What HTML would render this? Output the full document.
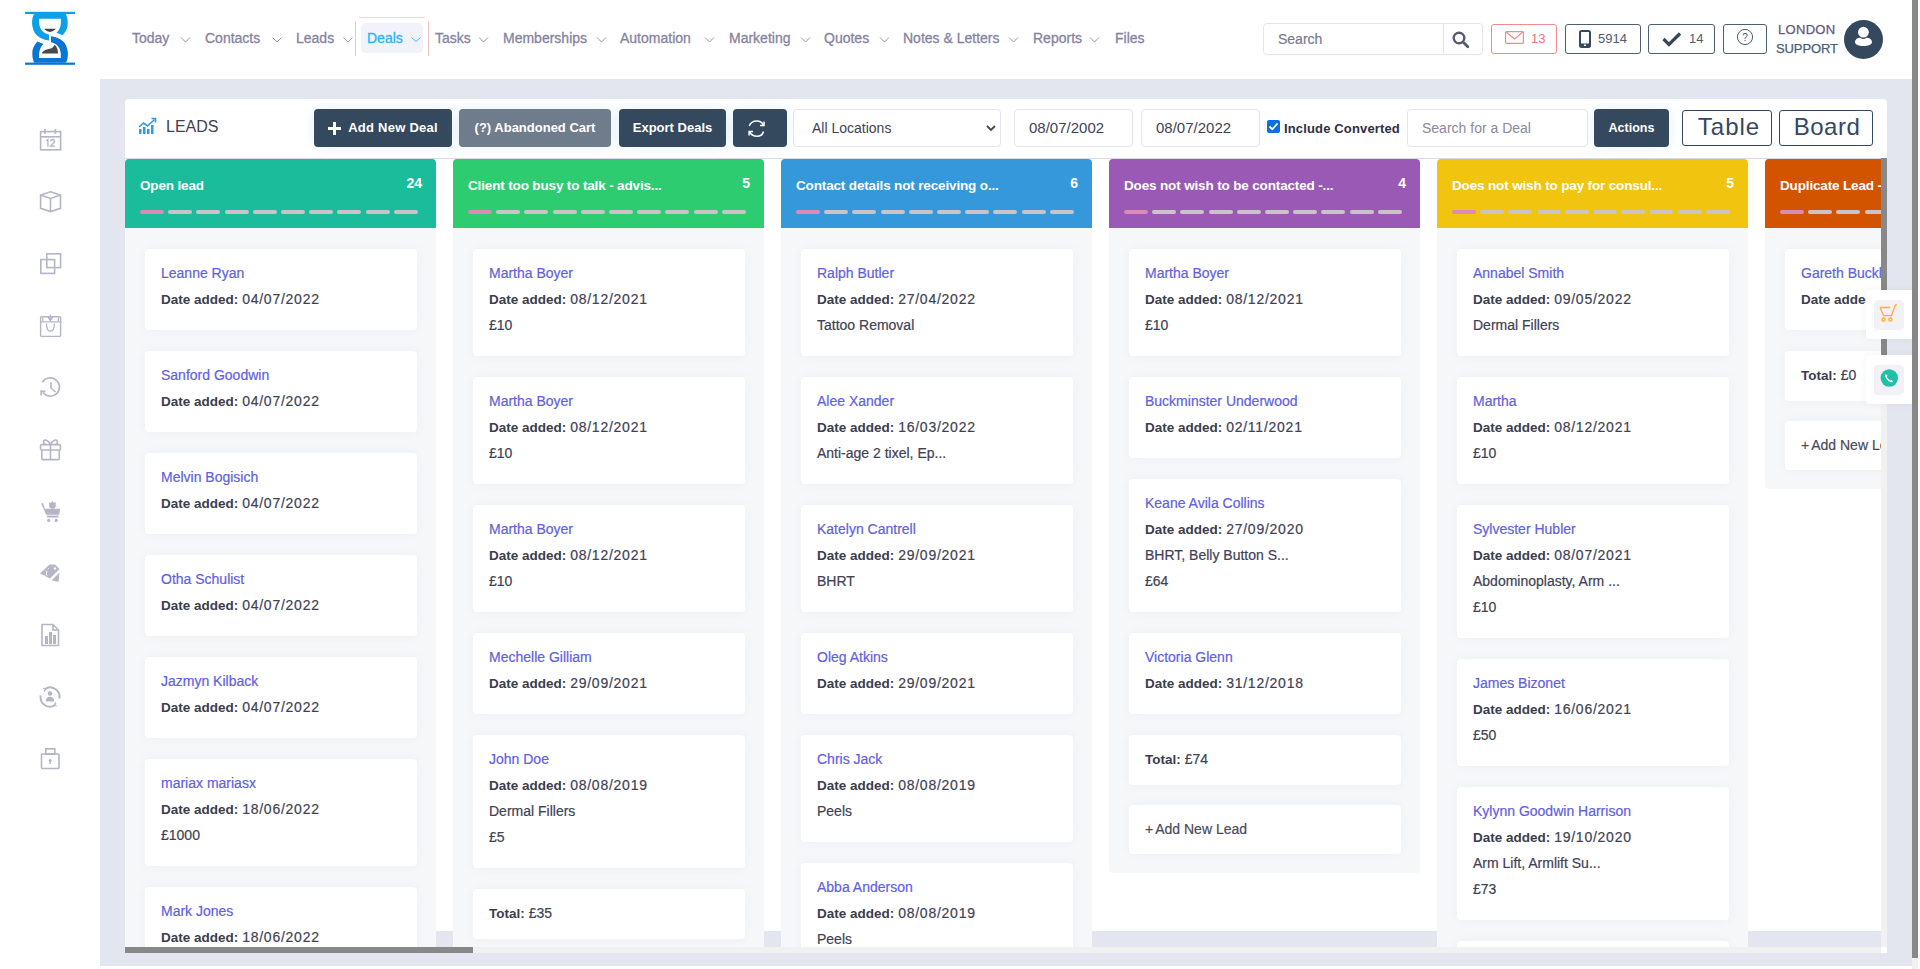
<!DOCTYPE html>
<html><head><meta charset="utf-8">
<style>
*{box-sizing:border-box;margin:0;padding:0}
html,body{width:1920px;height:969px;overflow:hidden;background:#fff;font-family:"Liberation Sans",sans-serif;color:#3f4254}
.a{position:absolute}
#hdr{left:0;top:0;width:1912px;height:79px;background:#fff}
.nav{top:28px;height:20px;line-height:20px;font-size:14px;color:#8683a0;white-space:nowrap;-webkit-text-stroke:0.3px #8683a0}
.chev{top:37px;width:9px;height:6px}
#main{left:100px;top:79px;width:1812px;height:887px;background:#e4e6ef}
#psb{left:1912px;top:0;width:6px;height:969px;background:#f1f1f1}
#psbt{left:1912px;top:0;width:6px;height:958px;background:#888}
#tb{left:125px;top:99px;width:1762px;height:60px;background:#fff;border-radius:4px 4px 0 0;border-bottom:1px solid #d9dbe6}
#board{left:125px;top:159px;width:1762px;height:772px;background:#fff}
#clip{left:125px;top:159px;width:1756px;height:788px;overflow:hidden}
.btn{top:109px;height:38px;border-radius:4px;box-shadow:0 0 14px rgba(120,190,240,0.2);background:#34495e;color:#fff;font-weight:bold;font-size:13px;line-height:38px;text-align:center;white-space:nowrap}
.inp{top:109px;height:38px;border:1px solid #e4e6ef;border-radius:4px;background:#fff;font-size:14px;line-height:36px;color:#3f4254;white-space:nowrap}
.col{position:absolute;top:0;width:311px}
.ch{position:absolute;left:0;top:0;width:311px;height:69px;border-radius:4px 4px 0 0}
.ct{position:absolute;left:15px;top:17px;font-size:13.5px;font-weight:bold;color:#fff;line-height:20px;white-space:nowrap;letter-spacing:-0.15px}
.cn{position:absolute;right:14px;top:14px;font-size:14px;font-weight:bold;color:#fff;line-height:20px}
.dash{position:absolute;top:51px;width:24px;height:4px;border-radius:2px;background:#cbc3c8}
.body{position:absolute;left:0;top:69px;width:311px;background:#f6f7f9;border-radius:0 0 4px 4px}
.card{position:absolute;left:20px;width:272px;background:#fff;border-radius:4px;box-shadow:0 0 12px rgba(60,60,90,0.04)}
.card .l{position:absolute;left:16px;height:26px;line-height:26px;font-size:14px;color:#3f4254;white-space:nowrap;-webkit-text-stroke:0.2px currentColor}
.card .n{color:#6061de}
.card b{font-weight:bold;color:#3b3d4e;font-size:13.5px;-webkit-text-stroke:0}
.dv{letter-spacing:0.75px}
.sic{left:39px;width:22px;height:22px}
</style></head><body>

<!-- header -->
<div id="hdr" class="a"></div>
<svg class="a" style="left:20px;top:8px" width="60" height="60" viewBox="0 0 60 60">
 <rect x="5" y="3.8" width="50" height="2.2" fill="#0ea0e6"/>
 <rect x="5" y="54.6" width="50" height="2.2" fill="#0b75d3"/>
 <path d="M14.2 6 C11 10 11 22 17 27.5 C20.5 30.5 25 32.3 29 32.5 L29 26.6 C24 25.5 19.5 22 19.2 15 L19.2 10.8 L40.9 10.8 L40.9 15 C40.5 19.5 39 22.8 36.5 24.8 L42.7 27.2 C46.5 23 48 19 47.7 14 C47.5 10.5 46.8 8 45.8 6 Z" fill="#0ea0e6"/>
 <path d="M14.2 6 C11 10 11 22 17 27.5 C20.5 30.5 25 32.3 29 32.5 L29 26.6 C24 25.5 19.5 22 19.2 15 L19.2 10.8 L40.9 10.8 L40.9 15 C40.5 19.5 39 22.8 36.5 24.8 L42.7 27.2 C46.5 23 48 19 47.7 14 C47.5 10.5 46.8 8 45.8 6 Z" fill="#0b75d3" transform="rotate(180 30 30.4)"/>
 <path d="M24 20.7 L36 20.7 Q33 24 30 24 Q27 24 24 20.7Z" fill="#464646"/>
 <path d="M22 45.5 C22.5 42 27 41.5 31 40.5 C33 40 34 38 34.5 36.8 C37 38.5 38 42 38 45.5 Z" fill="#4a4a4a"/>
</svg>

<div class="a nav" style="left:132px">Today</div>
<div class="a nav" style="left:205px">Contacts</div>
<div class="a nav" style="left:296px">Leads</div>
<div class="a" style="left:355px;top:21px;width:1px;height:35px;background:#f6c2c2"></div>
<div class="a" style="left:428px;top:21px;width:1px;height:35px;background:#f6c2c2"></div>
<div class="a" style="left:359px;top:17px;width:66px;height:1px;background:#f9d6d6"></div>
<div class="a" style="left:361px;top:23px;width:62px;height:30px;background:#f2f3fa;border-radius:5px"></div>
<div class="a nav" style="left:367px;color:#2db4f4;-webkit-text-stroke:0.3px #2db4f4">Deals</div>
<div class="a nav" style="left:435px">Tasks</div>
<div class="a nav" style="left:503px">Memberships</div>
<div class="a nav" style="left:620px">Automation</div>
<div class="a nav" style="left:729px">Marketing</div>
<div class="a nav" style="left:824px">Quotes</div>
<div class="a nav" style="left:903px">Notes &amp; Letters</div>
<div class="a nav" style="left:1033px">Reports</div>
<div class="a nav" style="left:1115px">Files</div>
<svg class="a" style="left:0;top:0" width="1200" height="60">
 <g fill="none" stroke="#8f8ca8" stroke-width="0.9">
  <path d="M181 37.5 l4.5 4.5 l4.5 -4.5"/>
  <path d="M272.5 37.5 l4.5 4.5 l4.5 -4.5"/>
  <path d="M343.5 37.5 l4.5 4.5 l4.5 -4.5"/>
  <path d="M411.5 37.5 l4.5 4 l4.5 -4" stroke="#2db4f4"/>
  <path d="M479 37.5 l4.5 4.5 l4.5 -4.5"/>
  <path d="M597 37.5 l4.5 4.5 l4.5 -4.5"/>
  <path d="M705 37.5 l4.5 4.5 l4.5 -4.5"/>
  <path d="M801 37.5 l4.5 4.5 l4.5 -4.5"/>
  <path d="M880 37.5 l4.5 4.5 l4.5 -4.5"/>
  <path d="M1009 37.5 l4.5 4.5 l4.5 -4.5"/>
  <path d="M1090 37.5 l4.5 4.5 l4.5 -4.5"/>
 </g>
</svg>

<!-- header right -->
<div class="a" style="left:1263px;top:23px;width:220px;height:32px;border:1px solid #e3e4ef;border-radius:4px"></div>
<div class="a" style="left:1443px;top:24px;width:1px;height:30px;background:#e3e4ef"></div>
<div class="a" style="left:1278px;top:29px;height:20px;line-height:20px;font-size:14px;color:#777a8e;-webkit-text-stroke:0.2px #777a8e">Search</div>
<svg class="a" style="left:1452px;top:31px" width="18" height="18" viewBox="0 0 18 18"><circle cx="7" cy="7" r="5.3" fill="none" stroke="#545b6e" stroke-width="2.4"/><path d="M11 11 L15.8 15.8" stroke="#545b6e" stroke-width="2.8" stroke-linecap="round"/></svg>

<div class="a" style="left:1491px;top:24px;width:66px;height:30px;border:1px solid #f08c8c;border-radius:3px"></div>
<svg class="a" style="left:1505px;top:31px" width="19" height="13" viewBox="0 0 19 13"><rect x="0.6" y="0.6" width="17.8" height="11.8" rx="1" fill="none" stroke="#f08c8c" stroke-width="1.2"/><path d="M0.8 0.8 L9.5 8 L18.2 0.8" fill="none" stroke="#f08c8c" stroke-width="1.2"/></svg>
<div class="a" style="left:1531px;top:29px;height:20px;line-height:20px;font-size:13px;color:#ee7373">13</div>

<div class="a" style="left:1565px;top:24px;width:76px;height:30px;border:1px solid #4b5e74;border-radius:3px"></div>
<svg class="a" style="left:1579px;top:30px" width="12" height="18" viewBox="0 0 12 18"><rect x="1" y="1" width="10" height="16" rx="1.5" fill="none" stroke="#34495e" stroke-width="2"/><rect x="1" y="13.5" width="10" height="3.5" fill="#34495e"/><rect x="5" y="14.5" width="2" height="1.5" fill="#fff"/></svg>
<div class="a" style="left:1598px;top:29px;height:20px;line-height:20px;font-size:13px;color:#4b5e74">5914</div>

<div class="a" style="left:1648px;top:24px;width:67px;height:30px;border:1px solid #4b5e74;border-radius:3px"></div>
<svg class="a" style="left:1662px;top:31px" width="20" height="16" viewBox="0 0 20 16"><path d="M1.5 8 L7 13.5 L18 2.5" fill="none" stroke="#34495e" stroke-width="3.2"/></svg>
<div class="a" style="left:1689px;top:29px;height:20px;line-height:20px;font-size:13px;color:#4b5e74">14</div>

<div class="a" style="left:1723px;top:24px;width:44px;height:30px;border:1px solid #4b5e74;border-radius:3px"></div>
<svg class="a" style="left:1736px;top:28px" width="18" height="18" viewBox="0 0 18 18"><circle cx="9" cy="9" r="7.6" fill="none" stroke="#4b5e74" stroke-width="1"/><text x="9" y="12.6" font-size="10" text-anchor="middle" fill="#4b5e74" font-family="Liberation Sans">?</text></svg>

<div class="a" style="left:1778px;top:21px;line-height:18px;font-size:13px;color:#5f5878;letter-spacing:0.3px;-webkit-text-stroke:0.25px #5f5878">LONDON</div>
<div class="a" style="left:1776px;top:40px;line-height:18px;font-size:13px;color:#4b5e74;letter-spacing:-0.1px;-webkit-text-stroke:0.25px #4b5e74">SUPPORT</div>
<svg class="a" style="left:1844px;top:20px" width="39" height="39" viewBox="0 0 39 39"><circle cx="19.5" cy="19.5" r="19.5" fill="#34495e"/><circle cx="19.4" cy="12.2" r="5.4" fill="#fff"/><path d="M11 22 C11 19.3 14 17.8 16.3 17.8 Q19.4 20.2 22.5 17.8 C24.8 17.8 28 19.3 28 22 C28 24.6 24 26 19.5 26 C15 26 11 24.6 11 22 Z" fill="#fff"/></svg>

<!-- sidebar -->
<div class="a" style="left:0;top:79px;width:100px;height:890px;background:#fff"></div>
<svg class="a" style="left:0;top:100px" width="100" height="700" viewBox="0 100 100 700">
 <g fill="none" stroke="#b4b5c7" stroke-width="1.6">
  <!-- calendar -->
  <rect x="40.6" y="131.6" width="20" height="18.2"/>
  <path d="M40.6 136.8 H60.6"/><path d="M45.1 129 V134 M55.4 129 V134"/>
  <path d="M46.3 140.8 L47.9 139.5 V146.7" stroke-width="1.3"/><path d="M50.6 141.1 Q50.9 139.5 52.7 139.5 Q54.5 139.5 54.5 141.2 Q54.5 142.5 52.6 144 L50.5 146.1 H55.2" stroke-width="1.3"/>
  <!-- cube -->
  <path d="M50.5 191.8 L60.5 195 L60.5 208.3 L50.5 211.6 L40.6 208.3 L40.6 195 Z M40.6 195 L50.5 198.4 L60.5 195 M50.5 198.4 V211.6"/>
  <!-- squares -->
  <rect x="40.8" y="259.6" width="13.8" height="13.8"/><rect x="46.8" y="253.8" width="13.8" height="13.8"/>
  <!-- bag -->
  <rect x="40.6" y="316.8" width="20" height="19.6" rx="1" stroke-width="1.4"/>
  <path d="M40.6 321.8 H60.6 M48 316.8 L50.4 320.8 L52.8 316.8 M50.4 314.5 V321 M42.8 317.5 V321 M58.4 317.5 V321 M46.5 323.5 Q46.5 331 50.4 331 Q54.4 331 54.4 323.5" stroke-width="1.3"/>
  <!-- history -->
  <path d="M42.3 382.4 A9.2 9.2 0 1 1 42.9 392.6"/><path d="M41.2 395.5 L41 391.2 L45.4 391.4" stroke-width="1.6"/><path d="M51 382.3 V388 L55.6 392"/>
  <!-- gift -->
  <rect x="40.6" y="444.6" width="19.8" height="5.4" rx="1"/><path d="M41.8 450 V458.6 Q41.8 459.6 42.8 459.6 H58.3 Q59.3 459.6 59.3 458.6 V450 M50.5 444.6 V459.6 M50.5 444.6 C48.5 439.8 43.6 438.5 43.6 442 Q43.6 444.6 46 444.6 M50.5 444.6 C52.5 439.8 57.4 438.5 57.4 442 Q57.4 444.6 55 444.6"/>
  <!-- report -->
  <path d="M42 624.5 H53 L58.5 630 V645.5 H42 Z M53 624.5 V630 H58.5"/>
  <!-- user circle -->
  <path d="M59.3 698.5 A9.3 9.3 0 0 0 45 689 M40.7 695.5 A9.3 9.3 0 0 0 55 705" stroke-width="2"/><path d="M43.5 688 L45.5 689.5 L44 691.5 M56.5 706 L54.5 704.5 L56 702.5" stroke-width="1.3"/>
  <!-- lock -->
  <rect x="41.5" y="754" width="17.5" height="14.5" rx="1"/><rect x="45.8" y="748.8" width="9" height="5.2"/>
 </g>
 <g fill="#b4b5c7">
  
  <path d="M41 503.2 L43.2 503.2 L44.8 508.7 L60.2 508.7 L59 514.8 L46.2 514.8 Z"/><rect x="47" y="515.6" width="11.5" height="1.9"/><circle cx="48.7" cy="520.4" r="1.6"/><circle cx="56.2" cy="520.4" r="1.6"/><circle cx="52.5" cy="505.5" r="3.3"/><path d="M52.5 500.8 L53.6 502.5 L51.4 502.5Z M49 504 L49.5 502 L51 503Z M56 504 L55.5 502 L54 503Z"/>
  <path d="M40 573.4 L49.5 564.5 L55 564.5 L59.5 569 L50 578.5 Z"/><path d="M51.5 580.5 L59.5 572.5 L58.5 581.8 Z"/><path d="M47.5 575.5 Q45.5 575 46.5 573 Q47.5 571 46 570.5 M45 575.5 L44.2 576.3 M47.8 569.2 L48.6 568.4" fill="none" stroke="#fff" stroke-width="1"/><circle cx="55" cy="568.5" r="1.2" fill="#fff"/>
  <rect x="45" y="636" width="3" height="8"/><rect x="49" y="632" width="3" height="12"/><rect x="53" y="635" width="3" height="9"/>
  <circle cx="50" cy="693.5" r="2.3"/><path d="M45.8 701.5 Q45.8 696.8 50 696.8 Q54.2 696.8 54.2 701.5 Z"/>
  <circle cx="50.2" cy="760.5" r="1.5"/><rect x="49.5" y="760.5" width="1.4" height="3.5"/>
 </g>
</svg>

<!-- main -->
<div id="main" class="a"></div>
<div id="psb" class="a"></div>
<div id="psbt" class="a"></div>

<div id="tb" class="a"></div>
<div id="board" class="a"></div>
<div class="a" style="left:1881px;top:158px;width:6px;height:789px;background:#f1f1f1"></div>
<div class="a" style="left:1881px;top:158px;width:6px;height:197px;background:#888"></div>
<div class="a" style="left:125px;top:947px;width:1756px;height:6px;background:#f1f1f1"></div>
<div class="a" style="left:125px;top:947px;width:348px;height:6px;background:#888"></div>
<div class="a" style="left:1881px;top:947px;width:6px;height:6px;background:#fff"></div>

<!-- toolbar -->
<svg class="a" style="left:138px;top:117px" width="20" height="18" viewBox="0 0 20 18"><g fill="#2f9be8"><rect x="1" y="12" width="2.5" height="5"/><rect x="5" y="10" width="2.5" height="7"/><rect x="9" y="12" width="2.5" height="5"/><rect x="13" y="8" width="2.5" height="9"/></g><path d="M1 10 L5.5 6 L9.5 9 L16.5 2.5" fill="none" stroke="#2f9be8" stroke-width="1.6"/><path d="M13.5 1.5 L17.5 1.5 L17.5 5.5" fill="none" stroke="#2f9be8" stroke-width="1.6"/></svg>
<div class="a" style="left:166px;top:117px;line-height:20px;font-size:16px;color:#3f4254">LEADS</div>

<div class="a btn" style="left:314px;width:138px;padding-left:20px;letter-spacing:0.25px">Add New Deal</div>
<svg class="a" style="left:327px;top:121px" width="15" height="15" viewBox="0 0 15 15"><path d="M7.5 1 V14 M1 7.5 H14" stroke="#fff" stroke-width="3"/></svg>
<div class="a btn" style="left:459px;width:152px;background:#6f7c8b">(?) Abandoned Cart</div>
<div class="a btn" style="left:619px;width:107px">Export Deals</div>
<div class="a btn" style="left:733px;width:54px"></div>
<svg class="a" style="left:745px;top:117px" width="24" height="24" viewBox="0 0 24 24"><g fill="none" stroke="#fff" stroke-width="1.5"><path d="M4.3 9 C5.5 5.5 8.5 4 12 4 C14.5 4 17 5.3 18.5 8"/><path d="M18.5 14.5 C17.5 18 14.5 19.3 12 19.3 C9 19.3 6.3 17.8 4.6 15"/><path d="M19 4.5 V8.5 H15"/><path d="M4.1 18.5 V14.5 H8"/></g></svg>

<div class="a inp" style="left:793px;width:208px;padding-left:18px">All Locations</div>
<svg class="a" style="left:986px;top:125px" width="10" height="7" viewBox="0 0 10 7"><path d="M1 1 L5 5 L9 1" fill="none" stroke="#464b56" stroke-width="1.9"/></svg>
<div class="a inp" style="left:1014px;width:119px;padding-left:14px;font-size:15px">08/07/2002</div>
<div class="a inp" style="left:1141px;width:119px;padding-left:14px;font-size:15px">08/07/2022</div>
<div class="a" style="left:1267px;top:120px;width:13px;height:13px;background:#0b6fe0;border-radius:2px"></div>
<svg class="a" style="left:1267px;top:120px" width="13" height="13" viewBox="0 0 13 13"><path d="M2.5 6.5 L5.3 9.3 L10.5 3.5" fill="none" stroke="#fff" stroke-width="1.8"/></svg>
<div class="a" style="left:1284px;top:119px;line-height:20px;font-size:13px;font-weight:bold;color:#2f2f3f;letter-spacing:0.15px">Include Converted</div>
<div class="a inp" style="left:1407px;width:181px;padding-left:14px;color:#8a8a9a">Search for a Deal</div>
<div class="a btn" style="left:1594px;width:75px;font-size:12.5px">Actions</div>
<div class="a" style="left:1682px;top:110px;width:90px;height:36px;border:1px solid #34495e;border-radius:3px;font-size:24px;line-height:32px;text-align:center;color:#34495e;letter-spacing:1px;padding-left:4px">Table</div>
<div class="a" style="left:1779px;top:110px;width:94px;height:36px;border:1px solid #34495e;border-radius:3px;font-size:24px;line-height:32px;text-align:center;color:#34495e;letter-spacing:0.5px;padding-left:2px">Board</div>

<!-- board -->
<div id="clip" class="a">
<div class="col" style="left:0px"><div class="ch" style="background:#1abc9c"><div class="ct">Open lead</div><div class="cn">24</div><div class="dash" style="left:15.0px;background:#dc8ab6"></div><div class="dash" style="left:43.2px;background:#cbc3c8"></div><div class="dash" style="left:71.4px;background:#cbc3c8"></div><div class="dash" style="left:99.6px;background:#cbc3c8"></div><div class="dash" style="left:127.8px;background:#cbc3c8"></div><div class="dash" style="left:156.0px;background:#cbc3c8"></div><div class="dash" style="left:184.2px;background:#cbc3c8"></div><div class="dash" style="left:212.4px;background:#cbc3c8"></div><div class="dash" style="left:240.6px;background:#cbc3c8"></div><div class="dash" style="left:268.8px;background:#cbc3c8"></div></div><div class="body" style="height:1200px"><div class="card" style="top:21px;height:81px"><div class="l n" style="top:11px">Leanne Ryan</div><div class="l" style="top:37px"><b>Date added:</b> <span class="dv">04/07/2022</span></div></div><div class="card" style="top:123px;height:81px"><div class="l n" style="top:11px">Sanford Goodwin</div><div class="l" style="top:37px"><b>Date added:</b> <span class="dv">04/07/2022</span></div></div><div class="card" style="top:225px;height:81px"><div class="l n" style="top:11px">Melvin Bogisich</div><div class="l" style="top:37px"><b>Date added:</b> <span class="dv">04/07/2022</span></div></div><div class="card" style="top:327px;height:81px"><div class="l n" style="top:11px">Otha Schulist</div><div class="l" style="top:37px"><b>Date added:</b> <span class="dv">04/07/2022</span></div></div><div class="card" style="top:429px;height:81px"><div class="l n" style="top:11px">Jazmyn Kilback</div><div class="l" style="top:37px"><b>Date added:</b> <span class="dv">04/07/2022</span></div></div><div class="card" style="top:531px;height:107px"><div class="l n" style="top:11px">mariax mariasx</div><div class="l" style="top:37px"><b>Date added:</b> <span class="dv">18/06/2022</span></div><div class="l" style="top:63px">£1000</div></div><div class="card" style="top:659px;height:81px"><div class="l n" style="top:11px">Mark Jones</div><div class="l" style="top:37px"><b>Date added:</b> <span class="dv">18/06/2022</span></div></div><div class="card" style="top:761px;height:81px"><div class="l n" style="top:11px">Mark Jones</div><div class="l" style="top:37px"><b>Date added:</b> <span class="dv">18/06/2022</span></div></div></div></div>
<div class="col" style="left:328px"><div class="ch" style="background:#2ecc71"><div class="ct">Client too busy to talk - advis...</div><div class="cn">5</div><div class="dash" style="left:15.0px;background:#dc8ab6"></div><div class="dash" style="left:43.2px;background:#cbc3c8"></div><div class="dash" style="left:71.4px;background:#cbc3c8"></div><div class="dash" style="left:99.6px;background:#cbc3c8"></div><div class="dash" style="left:127.8px;background:#cbc3c8"></div><div class="dash" style="left:156.0px;background:#cbc3c8"></div><div class="dash" style="left:184.2px;background:#cbc3c8"></div><div class="dash" style="left:212.4px;background:#cbc3c8"></div><div class="dash" style="left:240.6px;background:#cbc3c8"></div><div class="dash" style="left:268.8px;background:#cbc3c8"></div></div><div class="body" style="height:731px"><div class="card" style="top:21px;height:107px"><div class="l n" style="top:11px">Martha Boyer</div><div class="l" style="top:37px"><b>Date added:</b> <span class="dv">08/12/2021</span></div><div class="l" style="top:63px">£10</div></div><div class="card" style="top:149px;height:107px"><div class="l n" style="top:11px">Martha Boyer</div><div class="l" style="top:37px"><b>Date added:</b> <span class="dv">08/12/2021</span></div><div class="l" style="top:63px">£10</div></div><div class="card" style="top:277px;height:107px"><div class="l n" style="top:11px">Martha Boyer</div><div class="l" style="top:37px"><b>Date added:</b> <span class="dv">08/12/2021</span></div><div class="l" style="top:63px">£10</div></div><div class="card" style="top:405px;height:81px"><div class="l n" style="top:11px">Mechelle Gilliam</div><div class="l" style="top:37px"><b>Date added:</b> <span class="dv">29/09/2021</span></div></div><div class="card" style="top:507px;height:133px"><div class="l n" style="top:11px">John Doe</div><div class="l" style="top:37px"><b>Date added:</b> <span class="dv">08/08/2019</span></div><div class="l" style="top:63px">Dermal Fillers</div><div class="l" style="top:89px">£5</div></div><div class="card" style="top:661px;height:50px"><div class="l" style="top:11px"><b>Total:</b> £35</div></div></div></div>
<div class="col" style="left:656px"><div class="ch" style="background:#3498db"><div class="ct">Contact details not receiving o...</div><div class="cn">6</div><div class="dash" style="left:15.0px;background:#dc8ab6"></div><div class="dash" style="left:43.2px;background:#cbc3c8"></div><div class="dash" style="left:71.4px;background:#cbc3c8"></div><div class="dash" style="left:99.6px;background:#cbc3c8"></div><div class="dash" style="left:127.8px;background:#cbc3c8"></div><div class="dash" style="left:156.0px;background:#cbc3c8"></div><div class="dash" style="left:184.2px;background:#cbc3c8"></div><div class="dash" style="left:212.4px;background:#cbc3c8"></div><div class="dash" style="left:240.6px;background:#cbc3c8"></div><div class="dash" style="left:268.8px;background:#cbc3c8"></div></div><div class="body" style="height:833px"><div class="card" style="top:21px;height:107px"><div class="l n" style="top:11px">Ralph Butler</div><div class="l" style="top:37px"><b>Date added:</b> <span class="dv">27/04/2022</span></div><div class="l" style="top:63px">Tattoo Removal</div></div><div class="card" style="top:149px;height:107px"><div class="l n" style="top:11px">Alee Xander</div><div class="l" style="top:37px"><b>Date added:</b> <span class="dv">16/03/2022</span></div><div class="l" style="top:63px">Anti-age 2 tixel, Ep...</div></div><div class="card" style="top:277px;height:107px"><div class="l n" style="top:11px">Katelyn Cantrell</div><div class="l" style="top:37px"><b>Date added:</b> <span class="dv">29/09/2021</span></div><div class="l" style="top:63px">BHRT</div></div><div class="card" style="top:405px;height:81px"><div class="l n" style="top:11px">Oleg Atkins</div><div class="l" style="top:37px"><b>Date added:</b> <span class="dv">29/09/2021</span></div></div><div class="card" style="top:507px;height:107px"><div class="l n" style="top:11px">Chris Jack</div><div class="l" style="top:37px"><b>Date added:</b> <span class="dv">08/08/2019</span></div><div class="l" style="top:63px">Peels</div></div><div class="card" style="top:635px;height:107px"><div class="l n" style="top:11px">Abba Anderson</div><div class="l" style="top:37px"><b>Date added:</b> <span class="dv">08/08/2019</span></div><div class="l" style="top:63px">Peels</div></div><div class="card" style="top:763px;height:50px"><div class="l" style="top:11px"><b>Total:</b> £0</div></div></div></div>
<div class="col" style="left:984px"><div class="ch" style="background:#9b59b6"><div class="ct">Does not wish to be contacted -...</div><div class="cn">4</div><div class="dash" style="left:15.0px;background:#dc8ab6"></div><div class="dash" style="left:43.2px;background:#cbc3c8"></div><div class="dash" style="left:71.4px;background:#cbc3c8"></div><div class="dash" style="left:99.6px;background:#cbc3c8"></div><div class="dash" style="left:127.8px;background:#cbc3c8"></div><div class="dash" style="left:156.0px;background:#cbc3c8"></div><div class="dash" style="left:184.2px;background:#cbc3c8"></div><div class="dash" style="left:212.4px;background:#cbc3c8"></div><div class="dash" style="left:240.6px;background:#cbc3c8"></div><div class="dash" style="left:268.8px;background:#cbc3c8"></div></div><div class="body" style="height:645px"><div class="card" style="top:21px;height:107px"><div class="l n" style="top:11px">Martha Boyer</div><div class="l" style="top:37px"><b>Date added:</b> <span class="dv">08/12/2021</span></div><div class="l" style="top:63px">£10</div></div><div class="card" style="top:149px;height:81px"><div class="l n" style="top:11px">Buckminster Underwood</div><div class="l" style="top:37px"><b>Date added:</b> <span class="dv">02/11/2021</span></div></div><div class="card" style="top:251px;height:133px"><div class="l n" style="top:11px">Keane Avila Collins</div><div class="l" style="top:37px"><b>Date added:</b> <span class="dv">27/09/2020</span></div><div class="l" style="top:63px">BHRT, Belly Button S...</div><div class="l" style="top:89px">£64</div></div><div class="card" style="top:405px;height:81px"><div class="l n" style="top:11px">Victoria Glenn</div><div class="l" style="top:37px"><b>Date added:</b> <span class="dv">31/12/2018</span></div></div><div class="card" style="top:507px;height:50px"><div class="l" style="top:11px"><b>Total:</b> £74</div></div><div class="card" style="top:577px;height:49px"><div class="l" style="top:11px;color:#4a4a5a"><span style="margin-right:2px">+</span>Add New Lead</div></div></div></div>
<div class="col" style="left:1312px"><div class="ch" style="background:#f1c40f"><div class="ct">Does not wish to pay for consul...</div><div class="cn">5</div><div class="dash" style="left:15.0px;background:#dc8ab6"></div><div class="dash" style="left:43.2px;background:#cbc3c8"></div><div class="dash" style="left:71.4px;background:#cbc3c8"></div><div class="dash" style="left:99.6px;background:#cbc3c8"></div><div class="dash" style="left:127.8px;background:#cbc3c8"></div><div class="dash" style="left:156.0px;background:#cbc3c8"></div><div class="dash" style="left:184.2px;background:#cbc3c8"></div><div class="dash" style="left:212.4px;background:#cbc3c8"></div><div class="dash" style="left:240.6px;background:#cbc3c8"></div><div class="dash" style="left:268.8px;background:#cbc3c8"></div></div><div class="body" style="height:979px"><div class="card" style="top:21px;height:107px"><div class="l n" style="top:11px">Annabel Smith</div><div class="l" style="top:37px"><b>Date added:</b> <span class="dv">09/05/2022</span></div><div class="l" style="top:63px">Dermal Fillers</div></div><div class="card" style="top:149px;height:107px"><div class="l n" style="top:11px">Martha</div><div class="l" style="top:37px"><b>Date added:</b> <span class="dv">08/12/2021</span></div><div class="l" style="top:63px">£10</div></div><div class="card" style="top:277px;height:133px"><div class="l n" style="top:11px">Sylvester Hubler</div><div class="l" style="top:37px"><b>Date added:</b> <span class="dv">08/07/2021</span></div><div class="l" style="top:63px">Abdominoplasty, Arm ...</div><div class="l" style="top:89px">£10</div></div><div class="card" style="top:431px;height:107px"><div class="l n" style="top:11px">James Bizonet</div><div class="l" style="top:37px"><b>Date added:</b> <span class="dv">16/06/2021</span></div><div class="l" style="top:63px">£50</div></div><div class="card" style="top:559px;height:133px"><div class="l n" style="top:11px">Kylynn Goodwin Harrison</div><div class="l" style="top:37px"><b>Date added:</b> <span class="dv">19/10/2020</span></div><div class="l" style="top:63px">Arm Lift, Armlift Su...</div><div class="l" style="top:89px">£73</div></div><div class="card" style="top:713px;height:107px"><div class="l n" style="top:11px">Maria</div><div class="l" style="top:37px"><b>Date added:</b> <span class="dv">08/12/2021</span></div><div class="l" style="top:63px">£10</div></div><div class="card" style="top:841px;height:50px"><div class="l" style="top:11px"><b>Total:</b> £0</div></div><div class="card" style="top:911px;height:49px"><div class="l" style="top:11px;color:#4a4a5a"><span style="margin-right:2px">+</span>Add New Lead</div></div></div></div>
<div class="col" style="left:1640px"><div class="ch" style="background:#d35400"><div class="ct">Duplicate Lead - unable to...</div><div class="cn">1</div><div class="dash" style="left:15.0px;background:#dc8ab6"></div><div class="dash" style="left:43.2px;background:#cbc3c8"></div><div class="dash" style="left:71.4px;background:#cbc3c8"></div><div class="dash" style="left:99.6px;background:#cbc3c8"></div><div class="dash" style="left:127.8px;background:#cbc3c8"></div><div class="dash" style="left:156.0px;background:#cbc3c8"></div><div class="dash" style="left:184.2px;background:#cbc3c8"></div><div class="dash" style="left:212.4px;background:#cbc3c8"></div><div class="dash" style="left:240.6px;background:#cbc3c8"></div><div class="dash" style="left:268.8px;background:#cbc3c8"></div></div><div class="body" style="height:261px"><div class="card" style="top:21px;height:81px"><div class="l n" style="top:11px">Gareth Buckley</div><div class="l" style="top:37px"><b>Date added:</b> <span class="dv">04/07/2022</span></div></div><div class="card" style="top:123px;height:50px"><div class="l" style="top:11px"><b>Total:</b> £0</div></div><div class="card" style="top:193px;height:49px"><div class="l" style="top:11px;color:#4a4a5a"><span style="margin-right:2px">+</span>Add New Lead</div></div></div></div>
</div>

<!-- floating widgets -->
<div class="a" style="left:1866px;top:290px;width:46px;height:49px;background:#fff;border-radius:4px 0 0 4px;box-shadow:0 0 8px rgba(0,0,0,0.05)"></div>
<div class="a" style="left:1874px;top:300px;width:30px;height:30px;background:#f2f2f6;border-radius:4px"></div>
<svg class="a" style="left:1876px;top:300px" width="24" height="24" viewBox="0 0 24 24"><g fill="none" stroke="#fbb02a" stroke-width="1.3"><path d="M4.1 7.5 H14.2 M4.1 7.5 L7.5 15.6 H15.5 L19.5 4.8 H21"/><circle cx="7.6" cy="19.6" r="1.6"/><circle cx="14.4" cy="19.6" r="1.6"/></g></svg>
<div class="a" style="left:1866px;top:355px;width:46px;height:49px;background:#fff;border-radius:4px 0 0 4px;box-shadow:0 0 8px rgba(0,0,0,0.05)"></div>
<div class="a" style="left:1874px;top:365px;width:30px;height:30px;background:#f2f2f6;border-radius:4px"></div>
<svg class="a" style="left:1880px;top:369px" width="18" height="18" viewBox="0 0 18 18"><circle cx="9.3" cy="9" r="8.7" fill="#1fc2a6"/><path d="M5.6 5 Q4.6 6 5.6 8.5 Q7.1 11.5 10.1 13 Q12.1 13.8 13.1 12.5 L11.6 11 L10.4 11.5 Q8.1 10.3 6.9 7.9 L7.6 6.7 Z" fill="#fff"/></svg>

</body></html>
